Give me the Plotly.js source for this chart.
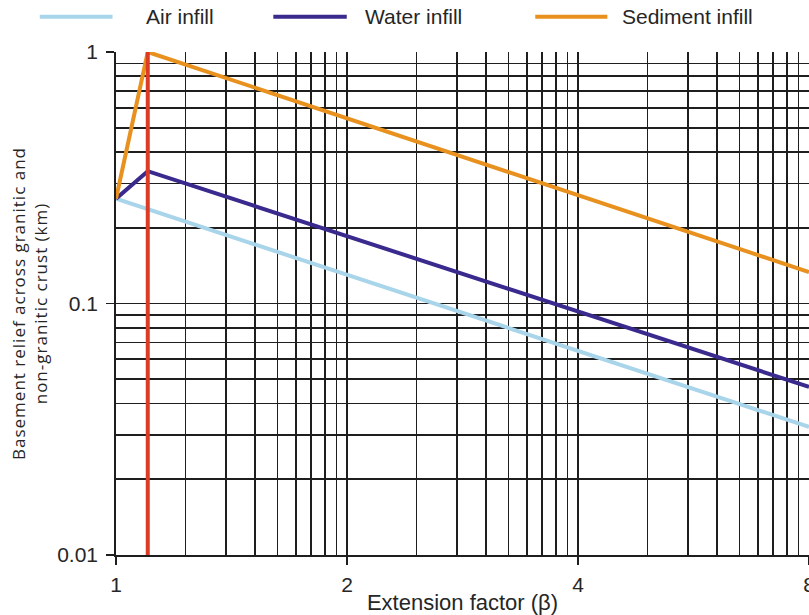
<!DOCTYPE html>
<html>
<head>
<meta charset="utf-8">
<script src="https://cdn.plot.ly/plotly-3.0.1.min.js"></script>
<style>
  html, body { margin: 0; padding: 0; background: #ffffff; }
  #chart { width: 809px; height: 615px; }
  /* the rotated y title is set slightly wide, like the rest of the lettering */
  #chart .ytitle { letter-spacing: 1px; }
</style>
</head>
<body>
<div id="chart"></div>
<script>
// Extension factor (β) at each vertex of the curves
const airBeta = [1, 8];
const waterBeta = [1, 1.1, 8];
const sedimentBeta = [1, 1.1, 8];

// Basement relief (km) for each infill type
const airRelief = [0.261, 0.0323];
const waterRelief = [0.261, 0.336, 0.0466];
const sedimentRelief = [0.261, 1.0, 0.1334];

// Vertical marker at β = 1.1
const markerBeta = [1.1, 1.1];
const markerRelief = [0.01, 1];

const seriesNames = ['Air infill', 'Water infill', 'Sediment infill'];
const seriesColors = ['#a9d5ea', '#3b2a8e', '#e8911f'];

// Axis tick labels
const xTickVals = [1, 2, 4, 8];
const xTickText = ['1', '2', '4', '8'];
const yTickVals = [0.01, 0.1, 1];
const yTickText = ['0.01', '0.1', '1'];

// Grid paper: each β doubling is ruled like one log decade (2..9 subdivisions)
const subdivisions = [2, 3, 4, 5, 6, 7, 8, 9];
const xMinorGrid = [];
for (let k = 0; k < 3; k++) {
  subdivisions.forEach(m => xMinorGrid.push(Math.pow(2, k + Math.log10(m))));
}
const yMinorGrid = [];
[0.01, 0.1].forEach(d => subdivisions.forEach(m => yMinorGrid.push(m * d)));

const gridColor = '#1e1e1e';
const textColor = '#262626';

const traces = [
  { x: airBeta, y: airRelief, name: seriesNames[0] },
  { x: waterBeta, y: waterRelief, name: seriesNames[1] },
  { x: sedimentBeta, y: sedimentRelief, name: seriesNames[2] }
].map((t, i) => Object.assign(t, {
  type: 'scatter',
  mode: 'lines',
  line: { color: seriesColors[i], width: 4 },
  showlegend: false,
  hoverinfo: 'x+y+name'
}));

traces.push({
  type: 'scatter',
  mode: 'lines',
  x: markerBeta,
  y: markerRelief,
  line: { color: '#dc3b26', width: 4 },
  showlegend: false,
  hoverinfo: 'skip'
});

// Legend drawn above the plot: a long line swatch followed by its label
const legendSwatchX = [[-0.11, -0.005], [0.227, 0.333], [0.605, 0.709]];
const legendLabelX = [0.04, 0.356, 0.727];
const legendY = 1.07;

const shapes = legendSwatchX.map((sx, i) => ({
  type: 'line', xref: 'paper', yref: 'paper',
  x0: sx[0], x1: sx[1], y0: legendY, y1: legendY,
  line: { color: seriesColors[i], width: 4 }
}));

const annotations = seriesNames.map((name, i) => ({
  xref: 'paper', yref: 'paper',
  x: legendLabelX[i], y: legendY,
  xanchor: 'left', yanchor: 'middle',
  text: name, showarrow: false,
  font: { family: 'Liberation Sans, Arial, sans-serif', size: 21, color: textColor }
}));

const layout = {
  width: 809,
  height: 615,
  margin: { l: 116, r: 0, t: 52, b: 60, autoexpand: false },
  paper_bgcolor: '#ffffff',
  plot_bgcolor: '#ffffff',
  font: { family: 'Liberation Sans, Arial, sans-serif', size: 21, color: textColor },
  showlegend: false,
  xaxis: {
    type: 'log',
    range: [0, Math.log10(8)],
    tickmode: 'array',
    tickvals: xTickVals,
    ticktext: xTickText,
    ticks: 'outside',
    ticklen: 8,
    tickwidth: 1.5,
    tickcolor: gridColor,
    ticklabelstandoff: 2,
    ticklabeloverflow: 'allow',
    showline: true,
    linecolor: gridColor,
    linewidth: 1.8,
    showgrid: true,
    gridcolor: gridColor,
    gridwidth: 1.8,
    zeroline: false,
    automargin: false,
    tickfont: { size: 21, color: textColor },
    minor: {
      tickmode: 'array',
      tickvals: xMinorGrid,
      ticks: '',
      showgrid: true,
      gridcolor: gridColor,
      gridwidth: 1.8
    },
    title: {
      text: 'Extension factor (β)',
      font: { size: 22, color: textColor },
      standoff: 0
    }
  },
  yaxis: {
    type: 'log',
    range: [-2, 0],
    tickmode: 'array',
    tickvals: yTickVals,
    ticktext: yTickText,
    ticks: 'outside',
    ticklen: 8,
    tickwidth: 1.5,
    tickcolor: gridColor,
    ticklabelstandoff: 4,
    showline: true,
    linecolor: gridColor,
    linewidth: 1.8,
    showgrid: true,
    gridcolor: gridColor,
    gridwidth: 1.8,
    zeroline: false,
    automargin: false,
    tickfont: { size: 21, color: textColor },
    minor: {
      tickmode: 'array',
      tickvals: yMinorGrid,
      ticks: '',
      showgrid: true,
      gridcolor: gridColor,
      gridwidth: 1.8
    },
    title: {
      text: 'Basement relief across granitic and<br>non-granitic crust (km)',
      font: { family: 'Open Sans, sans-serif', size: 17, color: textColor },
      standoff: 5
    }
  },
  shapes: shapes,
  annotations: annotations
};

Plotly.newPlot('chart', traces, layout, { displayModeBar: false, staticPlot: true });
</script>
</body>
</html>
